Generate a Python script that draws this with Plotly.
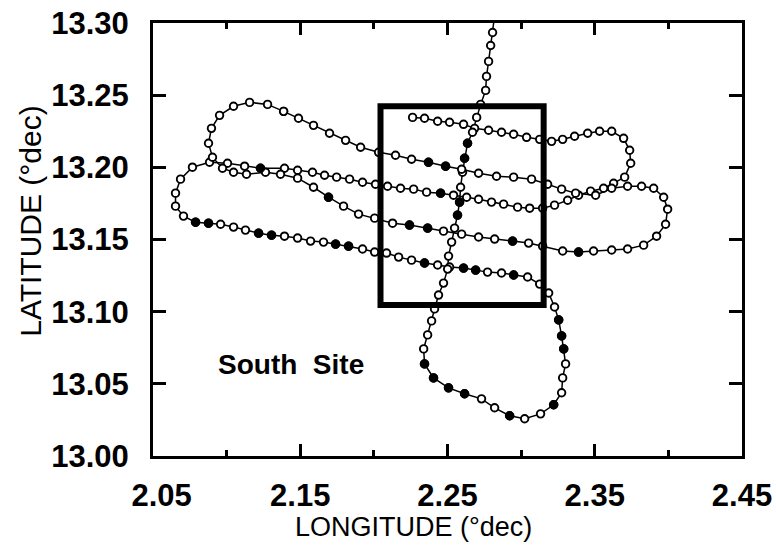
import plotly.graph_objects as go

# ---- Ship track, segment 1 (line A -> NE loop -> line C -> W loop -> line E -> S loop -> N-S transit)
SEG1_LON = [2.2263, 2.2344, 2.2433, 2.2514, 2.2609, 2.2684, 2.2779, 2.2867, 2.2949, 2.3037, 2.3126, 2.3207,
            2.3282, 2.3363, 2.3452, 2.3533, 2.3615, 2.3696, 2.3737, 2.3744, 2.3703,
            2.3628, 2.3560, 2.3472, 2.3390, 2.3316, 2.3227, 2.3146, 2.3058, 2.2976, 2.2881, 2.2799, 2.2711,
            2.2630, 2.2541, 2.2453, 2.2358, 2.2270, 2.2181, 2.2093, 2.2011, 2.1923, 2.1835, 2.1747, 2.1665,
            2.1583, 2.1482, 2.1393, 2.1230, 2.1122, 2.1006, 2.0884,
            2.0768, 2.0687, 2.0653, 2.0653, 2.0707,
            2.0789, 2.0877, 2.0959, 2.1047, 2.1128, 2.1217, 2.1305, 2.1393, 2.1482, 2.1570, 2.1658, 2.1740,
            2.1828, 2.1923, 2.2005, 2.2086, 2.2168, 2.2256, 2.2344, 2.2433, 2.2514, 2.2609, 2.2691, 2.2772,
            2.2867, 2.2949, 2.3044, 2.3126,
            2.3187, 2.3227, 2.3255, 2.3275, 2.3289, 2.3302, 2.3282, 2.3275, 2.3221, 2.3132, 2.3024, 2.2922,
            2.2820, 2.2731, 2.2616, 2.2507, 2.2405, 2.2344, 2.2338, 2.2365, 2.2392, 2.2412,
            2.2439, 2.2473, 2.2501, 2.2507, 2.2528, 2.2548, 2.2568, 2.2582, 2.2589, 2.2602, 2.2616, 2.2636,
            2.2670, 2.2698, 2.2725, 2.2759, 2.2765, 2.2779, 2.2793, 2.2806, 2.2820]
SEG1_LAT = [13.2346, 13.2340, 13.2319, 13.2312, 13.2298, 13.2270, 13.2257, 13.2243, 13.2229, 13.2208, 13.2194, 13.2180,
            13.2194, 13.2215, 13.2236, 13.2250, 13.2250, 13.2201, 13.2118, 13.2028, 13.1932,
            13.1890, 13.1855, 13.1835, 13.1807, 13.1772, 13.1738, 13.1717, 13.1717, 13.1724, 13.1745, 13.1759, 13.1779,
            13.1793, 13.1807, 13.1821, 13.1828, 13.1849, 13.1855, 13.1869, 13.1883, 13.1897, 13.1918, 13.1932, 13.1945,
            13.1966, 13.1980, 13.1994, 13.1994, 13.2008, 13.2028, 13.2035,
            13.2001, 13.1918, 13.1821, 13.1731, 13.1662,
            13.1620, 13.1613, 13.1606, 13.1586, 13.1565, 13.1544, 13.1530, 13.1523, 13.1510, 13.1489, 13.1482, 13.1468,
            13.1454, 13.1434, 13.1413, 13.1406, 13.1378, 13.1357, 13.1337, 13.1323, 13.1309, 13.1302, 13.1288, 13.1274,
            13.1268, 13.1254, 13.1240, 13.1191,
            13.1129, 13.1032, 13.0943, 13.0832, 13.0742, 13.0638, 13.0541, 13.0438, 13.0355, 13.0292, 13.0258, 13.0279,
            13.0334, 13.0396, 13.0431, 13.0472, 13.0541, 13.0638, 13.0742, 13.0839, 13.0936, 13.1019,
            13.1115, 13.1198, 13.1295, 13.1385, 13.1482, 13.1579, 13.1669, 13.1759, 13.1862, 13.1966, 13.2063, 13.2167,
            13.2243, 13.2346, 13.2436, 13.2533, 13.2630, 13.2734, 13.2844, 13.2934, 13.3052]

# ---- Ship track, segment 2 (line B -> SE loop -> line D -> NW loop)
SEG2_LON = [2.1387, 2.1488, 2.1590, 2.1699, 2.1808, 2.1910, 2.2032, 2.2147, 2.2256, 2.2371, 2.2487, 2.2596,
            2.2711, 2.2833, 2.2949, 2.3071, 2.3180, 2.3275, 2.3370, 2.3506, 2.3615,
            2.3723, 2.3818, 2.3900, 2.3968, 2.3995, 2.3981, 2.3920, 2.3832, 2.3723, 2.3615, 2.3492, 2.3390,
            2.3282, 2.3146,
            2.3051, 2.2942, 2.2820, 2.2711, 2.2596, 2.2473, 2.2365, 2.2242, 2.2127, 2.2005, 2.1896, 2.1794,
            2.1692, 2.1590, 2.1482, 2.1366, 2.1264, 2.1135, 2.1047, 2.0972,
            2.0904, 2.0877, 2.0897, 2.0952, 2.1047, 2.1156, 2.1278, 2.1387]
SEG2_LAT = [13.2388, 13.2340, 13.2291, 13.2236, 13.2187, 13.2139, 13.2104, 13.2084, 13.2056, 13.2035, 13.2008, 13.1987,
            13.1959, 13.1938, 13.1932, 13.1918, 13.1883, 13.1849, 13.1821, 13.1807, 13.1855,
            13.1869, 13.1869, 13.1855, 13.1793, 13.1710, 13.1606, 13.1523, 13.1461, 13.1434, 13.1427, 13.1420, 13.1413,
            13.1420, 13.1454,
            13.1475, 13.1489, 13.1503, 13.1517, 13.1537, 13.1558, 13.1579, 13.1600, 13.1613, 13.1648, 13.1676, 13.1731,
            13.1793, 13.1862, 13.1925, 13.1952, 13.1966, 13.1952, 13.1966, 13.1994,
            13.2070, 13.2167, 13.2270, 13.2360, 13.2423, 13.2450, 13.2436, 13.2388]

# ---- Stations drawn as filled dots
FILLED_LON = [2.0789, 2.0877, 2.1217, 2.1305, 2.1740, 2.1828, 2.2344, 2.2609, 2.2691, 2.2949,
              2.2344, 2.2405, 2.2507, 2.2616, 2.2922, 2.3221, 2.3289, 2.3275, 2.3255,
              2.2242, 2.2365, 2.2942, 2.1692, 2.1230, 2.2453,
              2.2582, 2.2568, 2.2636, 2.2616, 2.2371, 2.2487, 2.3390]
FILLED_LAT = [13.1620, 13.1613, 13.1544, 13.1530, 13.1468, 13.1454, 13.1337, 13.1302, 13.1288, 13.1254,
              13.0638, 13.0541, 13.0472, 13.0431, 13.0279, 13.0355, 13.0742, 13.0832, 13.0943,
              13.1600, 13.1579, 13.1489, 13.1793, 13.1994, 13.1821,
              13.1759, 13.1669, 13.2167, 13.2063, 13.2035, 13.2008, 13.1413]

# ---- Survey box
BOX_LON = [2.2045, 2.3153]
BOX_LAT = [13.1046, 13.2423]

# ---- Axes
X_TICKS = [2.05, 2.15, 2.25, 2.35, 2.45]
X_TICK_TEXT = ["\u00a0\u00a02.05", "2.15", "2.25", "2.35", "2.45"]
X_MINOR = [2.10, 2.20, 2.30, 2.40]
Y_TICKS = [13.00, 13.05, 13.10, 13.15, 13.20, 13.25, 13.30]
Y_TICK_TEXT = ["13.00", "13.05", "13.10", "13.15", "13.20", "13.25", "13.30"]

SITE_LABEL = "South\u00a0 Site"
SITE_POS = (2.1434, 13.0631)

FONT = "Liberation Sans, Arial, Helvetica, sans-serif"

fig = go.Figure()

track_lon = SEG1_LON + [None] + SEG2_LON
track_lat = SEG1_LAT + [None] + SEG2_LAT

fig.add_trace(go.Scatter(
    x=track_lon, y=track_lat, mode="lines+markers",
    line=dict(color="black", width=1.5),
    marker=dict(symbol="circle", size=7.5, color="white", line=dict(color="black", width=1.9)),
    showlegend=False, hoverinfo="skip", connectgaps=False,
))
fig.add_trace(go.Scatter(
    x=FILLED_LON, y=FILLED_LAT, mode="markers",
    marker=dict(symbol="circle", size=8.5, color="black", line=dict(color="black", width=1)),
    showlegend=False, hoverinfo="skip",
))

fig.add_shape(type="rect", xref="x", yref="y",
              x0=BOX_LON[0], x1=BOX_LON[1], y0=BOX_LAT[0], y1=BOX_LAT[1],
              line=dict(color="black", width=6), fillcolor="rgba(0,0,0,0)", layer="above")

fig.add_annotation(x=SITE_POS[0], y=SITE_POS[1], xref="x", yref="y", text=SITE_LABEL,
                   showarrow=False, font=dict(family=FONT, size=28, color="black", weight="bold"))

fig.add_annotation(x=0.442, y=-0.164, xref="paper", yref="paper", text="LONGITUDE (°dec)",
                   showarrow=False, xanchor="center", yanchor="middle",
                   font=dict(family=FONT, size=27, color="black"))
fig.add_annotation(x=-0.208, y=0.542, xref="paper", yref="paper", text="LATITUDE (°dec)",
                   showarrow=False, xanchor="center", yanchor="middle", textangle=-90,
                   font=dict(family=FONT, size=30, color="black"))

axis_common = dict(showgrid=False, zeroline=False, showline=True, linecolor="black", linewidth=3,
                   mirror="ticks", ticks="inside", tickcolor="black", tickwidth=3,
                   ticklabeloverflow="allow",
                   tickfont=dict(family=FONT, size=31, color="black", weight="bold"))

fig.update_xaxes(range=[2.05, 2.45], tickmode="array", tickvals=X_TICKS, ticktext=X_TICK_TEXT,
                 ticklen=12, ticklabelstandoff=10,
                 minor=dict(tickmode="array", tickvals=X_MINOR, ticks="inside", ticklen=6,
                            tickwidth=3, tickcolor="black"),
                 **axis_common)
fig.update_yaxes(range=[13.00, 13.30], tickmode="array", tickvals=Y_TICKS, ticktext=Y_TICK_TEXT,
                 ticklen=13, ticklabelstandoff=15, **axis_common)

fig.update_layout(width=776, height=551, plot_bgcolor="white", paper_bgcolor="white",
                  margin=dict(l=152.5, r=34, t=22.5, b=95, autoexpand=False),
                  showlegend=False)

# remove the default page margin so the figure sits at the window's top-left corner
fig.write_html("out.html", config={"displayModeBar": False},
               post_script="document.body.style.margin='0';")
